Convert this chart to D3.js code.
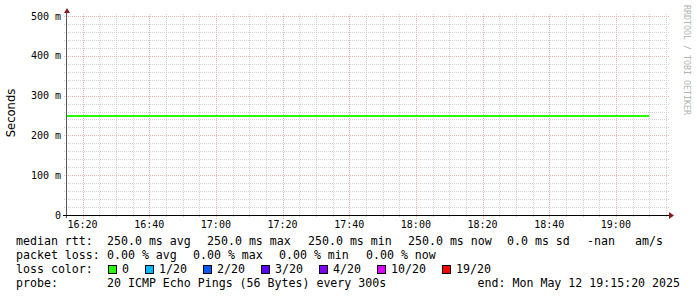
<!DOCTYPE html>
<html>
<head>
<meta charset="utf-8">
<script src="https://cdn.jsdelivr.net/npm/d3@7"></script>
<style>
  html, body { margin: 0; padding: 0; background: #fff; }
  svg { display: block; }
  text { font-family: "DejaVu Sans Mono", monospace; white-space: pre; }
</style>
</head>
<body>
<div id="chart"></div>
<script>
// median rtt samples (5 min step), seconds
const sampleTimes = [
  "16:15", "16:20", "16:25", "16:30", "16:35", "16:40", "16:45", "16:50", "16:55",
  "17:00", "17:05", "17:10", "17:15", "17:20", "17:25", "17:30", "17:35", "17:40",
  "17:45", "17:50", "17:55", "18:00", "18:05", "18:10", "18:15", "18:20", "18:25",
  "18:30", "18:35", "18:40", "18:45", "18:50", "18:55", "19:00", "19:05", "19:10"
];
const medianRtt = [
  0.25, 0.25, 0.25, 0.25, 0.25, 0.25, 0.25, 0.25, 0.25,
  0.25, 0.25, 0.25, 0.25, 0.25, 0.25, 0.25, 0.25, 0.25,
  0.25, 0.25, 0.25, 0.25, 0.25, 0.25, 0.25, 0.25, 0.25,
  0.25, 0.25, 0.25, 0.25, 0.25, 0.25, 0.25, 0.25, 0.25
];
const yTicks = [0, 0.1, 0.2, 0.3, 0.4, 0.5];
const yTickLabels = ["0", "100 m", "200 m", "300 m", "400 m", "500 m"];

const lossLabels = ["0", "1/20", "2/20", "3/20", "4/20", "10/20", "19/20"];
const lossColors = ["#26ff00", "#00b8ff", "#0059ff", "#5e00ff", "#7e00ff", "#dd00ff", "#ff0000"];

const rttItems = ["median rtt:", "250.0 ms avg", "250.0 ms max", "250.0 ms min",
  "250.0 ms now", "0.0 ms sd", "-nan", "am/s"];
const lossItems = ["packet loss:", "0.00 % avg", "0.00 % max", "0.00 % min", "0.00 % now"];
const probeItems = ["probe:", "20 ICMP Echo Pings (56 Bytes) every 300s"];
const endText = "end: Mon May 12 19:15:20 2025";

// 图例各段的横向位置
const rttX = [16, 107, 207, 308, 408, 507, 587, 635];
const lossX = [16, 107, 193, 279, 366];
const probeX = [16, 107];

const W = 697, H = 297;
const parse = d3.timeParse("%Y-%m-%d %H:%M:%S");
const tStart = parse("2025-05-12 16:15:20");
const tEnd = parse("2025-05-12 19:15:20");
const toDate = s => parse("2025-05-12 " + s + ":00");

const x = d3.scaleTime().domain([tStart, tEnd]).range([67, 667]);
const y = d3.scaleLinear().domain([0, 0.5]).range([215, 16]);

const svg = d3.select("#chart").append("svg")
  .attr("width", W).attr("height", H);

// 网格
const grid = svg.append("g").attr("shape-rendering", "crispEdges");
const minorY = d3.range(0, 26).map(i => i * 0.02).filter(v => Math.round(v * 50) % 5 !== 0);
const minorX = d3.timeMinute.every(5).range(tStart, tEnd).filter(d => d.getMinutes() % 20 !== 0);
const majorX = d3.timeMinute.every(20).range(tStart, tEnd);

grid.selectAll(".mny").data(minorY).enter().append("line")
  .attr("x1", 64).attr("x2", 669)
  .attr("y1", d => Math.round(y(d)) + 0.5).attr("y2", d => Math.round(y(d)) + 0.5)
  .attr("stroke", "#d2d2d2").attr("stroke-dasharray", "1,1");
grid.selectAll(".mnx").data(minorX).enter().append("line")
  .attr("x1", d => Math.round(x(d)) + 0.5).attr("x2", d => Math.round(x(d)) + 0.5)
  .attr("y1", 14).attr("y2", 218)
  .attr("stroke", "#d2d2d2").attr("stroke-dasharray", "1,1");
grid.selectAll(".mjy").data(yTicks.slice(1)).enter().append("line")
  .attr("x1", 64).attr("x2", 670)
  .attr("y1", d => Math.round(y(d)) + 0.5).attr("y2", d => Math.round(y(d)) + 0.5)
  .attr("stroke", "#efb4b4").attr("stroke-dasharray", "1,1");
grid.selectAll(".mjx").data(majorX).enter().append("line")
  .attr("x1", d => Math.round(x(d)) + 0.5).attr("x2", d => Math.round(x(d)) + 0.5)
  .attr("y1", 14).attr("y2", 219)
  .attr("stroke", "#efb4b4").attr("stroke-dasharray", "1,1");

// 数据线
const pts = sampleTimes.map((t, i) => ({ t: toDate(t), v: medianRtt[i] }));
svg.append("clipPath").attr("id", "clip")
  .append("rect").attr("x", 67).attr("y", 0).attr("width", 600).attr("height", 216);
svg.append("path")
  .datum(pts)
  .attr("clip-path", "url(#clip)")
  .attr("fill", "none")
  .attr("stroke", lossColors[0])
  .attr("stroke-width", 2)
  .attr("shape-rendering", "crispEdges")
  .attr("d", d3.line().x(d => x(d.t)).y(d => y(d.v)).curve(d3.curveStepBefore));

// 坐标轴
const axes = svg.append("g").attr("shape-rendering", "crispEdges");
axes.append("line").attr("x1", 66.5).attr("x2", 66.5).attr("y1", 11).attr("y2", 218)
  .attr("stroke", "#555");
axes.append("line").attr("x1", 63).attr("x2", 670).attr("y1", 215.5).attr("y2", 215.5)
  .attr("stroke", "#000");
svg.append("path").attr("d", "M64,13 L70,13 L67,8 Z").attr("fill", "#8b1a1a");
svg.append("path").attr("d", "M669,212 L669,219 L674,215.5 Z").attr("fill", "#8b1a1a");

// 刻度标签
svg.append("g").selectAll("text").data(yTicks).enter().append("text")
  .attr("x", 61).attr("y", d => y(d) + 3.5)
  .attr("text-anchor", "end").attr("font-size", "10px").attr("fill", "#000")
  .text((d, i) => yTickLabels[i]);
svg.append("g").selectAll("text").data(majorX).enter().append("text")
  .attr("x", d => x(d)).attr("y", 228)
  .attr("text-anchor", "middle").attr("font-size", "10px").attr("fill", "#000")
  .text(d => d3.timeFormat("%H:%M")(d));

svg.append("text")
  .attr("transform", "translate(15,113) rotate(-90)")
  .attr("text-anchor", "middle")
  .style("font-family", "'DejaVu Sans', sans-serif")
  .attr("font-size", "11.6px")
  .text("Seconds");

svg.append("text")
  .attr("transform", "translate(684,5) rotate(90)")
  .attr("font-size", "8.3px").attr("fill", "#b4b4b4")
  .text("RRDTOOL / TOBI OETIKER");

// 图例
const legend = svg.append("g").attr("font-size", "11.6px").attr("fill", "#000");
function row(items, xs, yy) {
  items.forEach((s, i) => {
    legend.append("text").attr("x", xs[i]).attr("y", yy).text(s);
  });
}
row(rttItems, rttX, 245);
row(lossItems, lossX, 259);
legend.append("text").attr("x", 16).attr("y", 273).text("loss color:");
let lx = 108;
lossLabels.forEach((lab, i) => {
  legend.append("rect").attr("x", lx + 0.5).attr("y", 265.5).attr("width", 8).attr("height", 8)
    .attr("fill", lossColors[i]).attr("stroke", "#000").attr("shape-rendering", "crispEdges");
  legend.append("text").attr("x", lx + 14).attr("y", 273).text(lab);
  lx += 14 + lab.length * 7 + 16;
});
row(probeItems, probeX, 287);
legend.append("text").attr("x", 680).attr("y", 287).attr("text-anchor", "end")
  .text(endText);
</script>
</body>
</html>
